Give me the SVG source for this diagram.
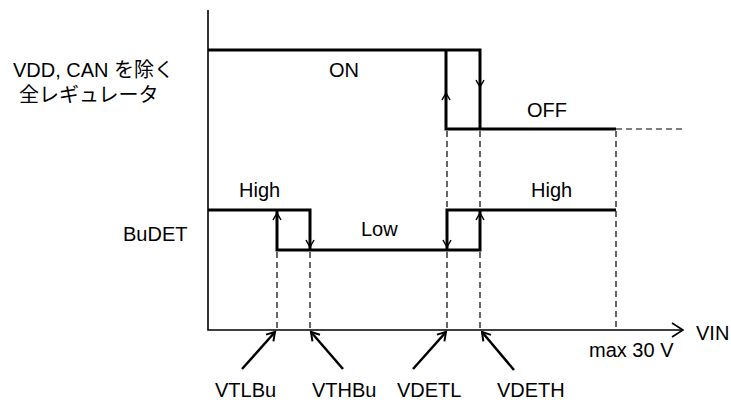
<svg xmlns="http://www.w3.org/2000/svg" width="731" height="403" viewBox="0 0 731 403">
  <style>
    .t { font-family: "Liberation Sans", "Noto Sans CJK JP", Arial, sans-serif; font-size: 20px; fill: #000; }
    .axis { stroke: #000; stroke-width: 1.6; fill: none; }
    .sig { stroke: #000; stroke-width: 3; fill: none; stroke-linejoin: miter; }
    .head { stroke: #000; stroke-width: 1.5; fill: none; }
    .dash { stroke: #000; stroke-width: 1.2; stroke-dasharray: 6 4; fill: none; }
    .ptr { stroke: #000; stroke-width: 2.5; fill: none; }
  </style>
  <defs>
    <marker id="chev" markerUnits="userSpaceOnUse" markerWidth="14" markerHeight="14" viewBox="-10 -7 12 14" refX="0" refY="0" orient="auto">
      <path d="M-8,-5 L0,0 L-8,5" stroke="#000" stroke-width="2" fill="none"/>
    </marker>
  </defs>

  <g id="axes">
    <path class="axis" d="M208,10 L208,330 L683,330"/>
    <path class="axis" d="M672,323 L683,330 L672,337"/>
    <text class="t" x="696" y="340">VIN</text>
    <text class="t" x="589" y="357">max 30 V</text>
  </g>

  <g id="regulator-signal">
    <text class="t" x="13" y="77">VDD, CAN を除く</text>
    <text class="t" x="19" y="102">全レギュレータ</text>
    <path class="sig" d="M208,50 L480,50 L480,129"/>
    <path class="sig" d="M446,50 L446,129 L616,129"/>
    <path class="head" d="M442,100 L446,93 L450,100"/>
    <path class="head" d="M476,80 L480,87 L484,80"/>
    <text class="t" x="329" y="77">ON</text>
    <text class="t" x="527" y="117">OFF</text>
  </g>

  <g id="budet-signal">
    <text class="t" x="123" y="241">BuDET</text>
    <path class="sig" d="M208,210 L310,210 L310,250"/>
    <path class="sig" d="M277,210 L277,250 L480,250 L480,210"/>
    <path class="sig" d="M447,250 L447,210 L616,210"/>
    <path class="head" d="M273,220 L277,213 L281,220"/>
    <path class="head" d="M306,240 L310,247 L314,240"/>
    <path class="head" d="M443,240 L447,247 L451,240"/>
    <path class="head" d="M476,220 L480,213 L484,220"/>
    <text class="t" x="239" y="197">High</text>
    <text class="t" x="361" y="236">Low</text>
    <text class="t" x="531" y="197">High</text>
  </g>

  <g id="connectors">
    <path class="dash" d="M616,129 L686,129"/>
    <path class="dash" d="M277,252 L277,330"/>
    <path class="dash" d="M310,252 L310,330"/>
    <path class="dash" d="M447,131 L447,208"/>
    <path class="dash" d="M447,252 L447,330"/>
    <path class="dash" d="M480,131 L480,208"/>
    <path class="dash" d="M480,252 L480,330"/>
    <path class="dash" d="M616,131 L616,330"/>
    <path class="ptr" d="M242,369 L275,332" marker-end="url(#chev)"/>
    <path class="ptr" d="M343,369 L311,332" marker-end="url(#chev)"/>
    <path class="ptr" d="M413,369 L446,332" marker-end="url(#chev)"/>
    <path class="ptr" d="M514,370 L482,332" marker-end="url(#chev)"/>
  </g>

  <g id="threshold-labels">
    <text class="t" x="215" y="397">VTLBu</text>
    <text class="t" x="312" y="397">VTHBu</text>
    <text class="t" x="397" y="397">VDETL</text>
    <text class="t" x="497" y="397">VDETH</text>
  </g>
</svg>
